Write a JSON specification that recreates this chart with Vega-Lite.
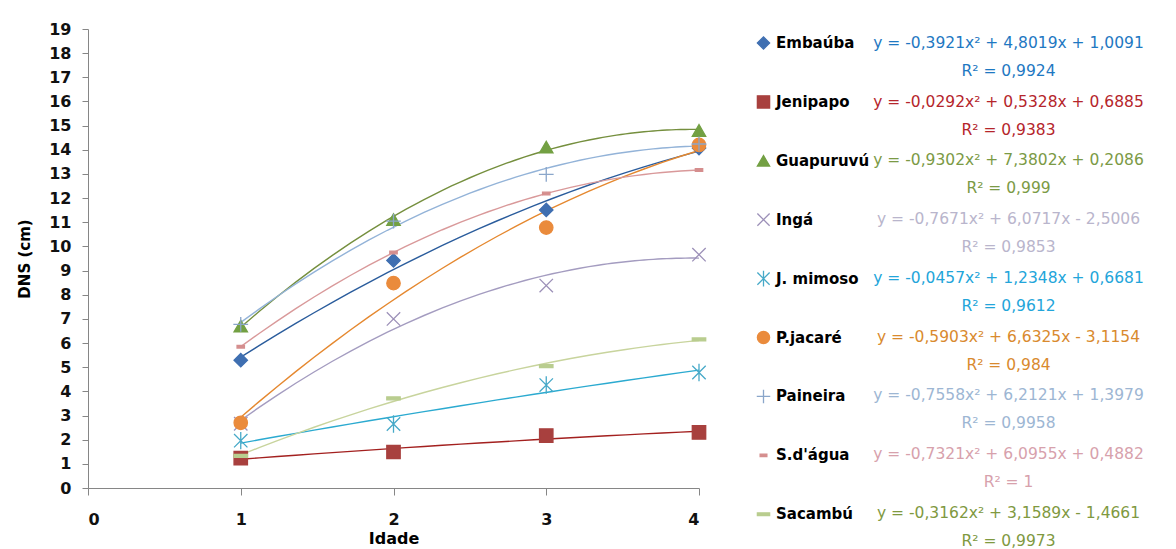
{
  "$schema": "https://vega.github.io/schema/vega-lite/v6.json",
  "width": 611,
  "height": 459,
  "autosize": {"type": "none"},
  "padding": {"left": 88, "top": 29, "right": 477, "bottom": 61},
  "background": "white",
  "config": {
    "view": {"stroke": null},
    "font": "DejaVu Sans",
    "axis": {
      "grid": false,
      "domainColor": "#868686",
      "tickColor": "#868686",
      "labelFont": "DejaVu Sans",
      "labelFontWeight": "bold",
      "labelFontSize": 16,
      "labelColor": "#111111",
      "labelOverlap": false,
      "titleFont": "DejaVu Sans",
      "titleFontWeight": "bold",
      "titleColor": "#000000"
    }
  },
  "data": {
    "values": [
      {"series": "Embaúba", "Idade": 1, "DNS": 5.29, "trend": "y = -0,3921x² + 4,8019x + 1,0091|R² = 0,9924"},
      {"series": "Embaúba", "Idade": 2, "DNS": 9.42, "trend": "y = -0,3921x² + 4,8019x + 1,0091|R² = 0,9924"},
      {"series": "Embaúba", "Idade": 3, "DNS": 11.51, "trend": "y = -0,3921x² + 4,8019x + 1,0091|R² = 0,9924"},
      {"series": "Embaúba", "Idade": 4, "DNS": 14.07, "trend": "y = -0,3921x² + 4,8019x + 1,0091|R² = 0,9924"},
      {"series": "Jenipapo", "Idade": 1, "DNS": 1.24, "trend": "y = -0,0292x² + 0,5328x + 0,6885|R² = 0,9383"},
      {"series": "Jenipapo", "Idade": 2, "DNS": 1.49, "trend": "y = -0,0292x² + 0,5328x + 0,6885|R² = 0,9383"},
      {"series": "Jenipapo", "Idade": 3, "DNS": 2.17, "trend": "y = -0,0292x² + 0,5328x + 0,6885|R² = 0,9383"},
      {"series": "Jenipapo", "Idade": 4, "DNS": 2.30, "trend": "y = -0,0292x² + 0,5328x + 0,6885|R² = 0,9383"},
      {"series": "Guapuruvú", "Idade": 1, "DNS": 6.70, "trend": "y = -0,9302x² + 7,3802x + 0,2086|R² = 0,999"},
      {"series": "Guapuruvú", "Idade": 2, "DNS": 11.11, "trend": "y = -0,9302x² + 7,3802x + 0,2086|R² = 0,999"},
      {"series": "Guapuruvú", "Idade": 3, "DNS": 14.11, "trend": "y = -0,9302x² + 7,3802x + 0,2086|R² = 0,999"},
      {"series": "Guapuruvú", "Idade": 4, "DNS": 14.80, "trend": "y = -0,9302x² + 7,3802x + 0,2086|R² = 0,999"},
      {"series": "Ingá", "Idade": 1, "DNS": 2.66, "trend": "y = -0,7671x² + 6,0717x - 2,5006|R² = 0,9853"},
      {"series": "Ingá", "Idade": 2, "DNS": 7.00, "trend": "y = -0,7671x² + 6,0717x - 2,5006|R² = 0,9853"},
      {"series": "Ingá", "Idade": 3, "DNS": 8.38, "trend": "y = -0,7671x² + 6,0717x - 2,5006|R² = 0,9853"},
      {"series": "Ingá", "Idade": 4, "DNS": 9.66, "trend": "y = -0,7671x² + 6,0717x - 2,5006|R² = 0,9853"},
      {"series": "J. mimoso", "Idade": 1, "DNS": 1.96, "trend": "y = -0,0457x² + 1,2348x + 0,6681|R² = 0,9612"},
      {"series": "J. mimoso", "Idade": 2, "DNS": 2.65, "trend": "y = -0,0457x² + 1,2348x + 0,6681|R² = 0,9612"},
      {"series": "J. mimoso", "Idade": 3, "DNS": 4.26, "trend": "y = -0,0457x² + 1,2348x + 0,6681|R² = 0,9612"},
      {"series": "J. mimoso", "Idade": 4, "DNS": 4.78, "trend": "y = -0,0457x² + 1,2348x + 0,6681|R² = 0,9612"},
      {"series": "P.jacaré", "Idade": 1, "DNS": 2.70, "trend": "y = -0,5903x² + 6,6325x - 3,1154|R² = 0,984"},
      {"series": "P.jacaré", "Idade": 2, "DNS": 8.48, "trend": "y = -0,5903x² + 6,6325x - 3,1154|R² = 0,984"},
      {"series": "P.jacaré", "Idade": 3, "DNS": 10.78, "trend": "y = -0,5903x² + 6,6325x - 3,1154|R² = 0,984"},
      {"series": "P.jacaré", "Idade": 4, "DNS": 14.20, "trend": "y = -0,5903x² + 6,6325x - 3,1154|R² = 0,984"},
      {"series": "Paineira", "Idade": 1, "DNS": 6.77, "trend": "y = -0,7558x² + 6,2121x + 1,3979|R² = 0,9958"},
      {"series": "Paineira", "Idade": 2, "DNS": 11.05, "trend": "y = -0,7558x² + 6,2121x + 1,3979|R² = 0,9958"},
      {"series": "Paineira", "Idade": 3, "DNS": 12.98, "trend": "y = -0,7558x² + 6,2121x + 1,3979|R² = 0,9958"},
      {"series": "Paineira", "Idade": 4, "DNS": 14.24, "trend": "y = -0,7558x² + 6,2121x + 1,3979|R² = 0,9958"},
      {"series": "S.d'água", "Idade": 1, "DNS": 5.85, "trend": "y = -0,7321x² + 6,0955x + 0,4882|R² = 1"},
      {"series": "S.d'água", "Idade": 2, "DNS": 9.75, "trend": "y = -0,7321x² + 6,0955x + 0,4882|R² = 1"},
      {"series": "S.d'água", "Idade": 3, "DNS": 12.19, "trend": "y = -0,7321x² + 6,0955x + 0,4882|R² = 1"},
      {"series": "S.d'água", "Idade": 4, "DNS": 13.16, "trend": "y = -0,7321x² + 6,0955x + 0,4882|R² = 1"},
      {"series": "Sacambú", "Idade": 1, "DNS": 1.33, "trend": "y = -0,3162x² + 3,1589x - 1,4661|R² = 0,9973"},
      {"series": "Sacambú", "Idade": 2, "DNS": 3.71, "trend": "y = -0,3162x² + 3,1589x - 1,4661|R² = 0,9973"},
      {"series": "Sacambú", "Idade": 3, "DNS": 5.04, "trend": "y = -0,3162x² + 3,1589x - 1,4661|R² = 0,9973"},
      {"series": "Sacambú", "Idade": 4, "DNS": 6.15, "trend": "y = -0,3162x² + 3,1589x - 1,4661|R² = 0,9973"}
    ]
  },
  "layer": [
    {
      "transform": [
        {"regression": "DNS", "on": "Idade", "groupby": ["series", "trend"], "method": "poly", "order": 2, "extent": [1, 4]}
      ],
      "mark": {"type": "line", "strokeWidth": 1.4},
      "encoding": {
        "x": {"field": "Idade", "type": "quantitative", "scale": {"domain": [0, 4], "nice": false}, "axis": {"values": [0, 1, 2, 3, 4], "format": "d", "tickSize": 7, "labelPadding": 16, "labelOverlap": false, "title": "Idade", "titleFontSize": 16, "titlePadding": 3}},
        "y": {"field": "DNS", "type": "quantitative", "scale": {"domain": [0, 19], "nice": false}, "axis": {"values": [0,1,2,3,4,5,6,7,8,9,10,11,12,13,14,15,16,17,18,19], "tickCount": 20, "format": "d", "tickSize": 6, "labelPadding": 11, "labelOverlap": false, "title": "DNS (cm)", "titleFontSize": 15, "titlePadding": 16}},
        "color": {
          "field": "trend", "type": "nominal",
          "scale": {
            "domain": [
              "y = -0,3921x² + 4,8019x + 1,0091|R² = 0,9924",
              "y = -0,0292x² + 0,5328x + 0,6885|R² = 0,9383",
              "y = -0,9302x² + 7,3802x + 0,2086|R² = 0,999",
              "y = -0,7671x² + 6,0717x - 2,5006|R² = 0,9853",
              "y = -0,0457x² + 1,2348x + 0,6681|R² = 0,9612",
              "y = -0,5903x² + 6,6325x - 3,1154|R² = 0,984",
              "y = -0,7558x² + 6,2121x + 1,3979|R² = 0,9958",
              "y = -0,7321x² + 6,0955x + 0,4882|R² = 1",
              "y = -0,3162x² + 3,1589x - 1,4661|R² = 0,9973"
            ],
            "range": ["#2A5C9C", "#A3201F", "#758F3E", "#A49CC0", "#2BAAD0", "#E5882F", "#93B3D8", "#D9999A", "#C8D49D"]
          },
          "legend": {
            "title": null, "orient": "none", "legendX": 905, "legendY": 6, "padding": 0,
            "symbolOpacity": 0, "symbolSize": 0, "symbolStrokeWidth": 0,
            "labelExpr": "split(datum.label, '|')",
            "labelAlign": "center", "labelFont": "DejaVu Sans", "labelFontSize": 15.5, "labelFontWeight": "normal",
            "labelOffset": 0, "labelLimit": 0, "rowPadding": 13.75,
            "encoding": {
              "labels": {
                "fill": {
                  "condition": [
                    {"test": "datum.index === 0", "value": "#1E78C2"},
                    {"test": "datum.index === 1", "value": "#B5252B"},
                    {"test": "datum.index === 2", "value": "#7B9A45"},
                    {"test": "datum.index === 3", "value": "#B9B5CC"},
                    {"test": "datum.index === 4", "value": "#23A5DA"},
                    {"test": "datum.index === 5", "value": "#D98A2E"},
                    {"test": "datum.index === 6", "value": "#9DB6D3"},
                    {"test": "datum.index === 7", "value": "#D7A1AC"}
                  ],
                  "value": "#80993F"
                },
                "lineHeight": {"value": 28}
              }
            }
          }
        }
      }
    },
    {
      "mark": {"type": "point", "filled": true, "size": 180, "strokeWidth": 1.3, "opacity": 1},
      "encoding": {
        "x": {"field": "Idade", "type": "quantitative"},
        "y": {"field": "DNS", "type": "quantitative"},
        "fill": {
          "field": "series", "type": "nominal",
          "scale": {
            "domain": ["Embaúba", "Jenipapo", "Guapuruvú", "Ingá", "J. mimoso", "P.jacaré", "Paineira", "S.d'água", "Sacambú"],
            "range": ["#3F6FB1", "#A8403E", "#73A043", "#9C90B8", "#46A9C8", "#EA8B3C", "#8AA6CA", "#D58E8E", "#B9CD8F"]
          },
          "legend": {"title": null, "orient": "none", "legendX": 668, "legendY": 6.5, "padding": 0, "gridAlign": "all", "symbolSize": 150, "symbolStrokeWidth": 1.3, "labelFont": "DejaVu Sans", "labelFontSize": 15, "labelFontWeight": "bold", "labelColor": "#000000", "labelOffset": 5, "labelLimit": 0, "rowPadding": 35.9}
        },
        "stroke": {
          "field": "series", "type": "nominal",
          "scale": {
            "domain": ["Embaúba", "Jenipapo", "Guapuruvú", "Ingá", "J. mimoso", "P.jacaré", "Paineira", "S.d'água", "Sacambú"],
            "range": ["#3F6FB1", "#A8403E", "#73A043", "#9C90B8", "#46A9C8", "#EA8B3C", "#8AA6CA", "#D58E8E", "#B9CD8F"]
          },
          "legend": {"title": null, "orient": "none", "legendX": 668, "legendY": 6.5, "padding": 0, "gridAlign": "all", "symbolSize": 150, "symbolStrokeWidth": 1.3, "labelFont": "DejaVu Sans", "labelFontSize": 15, "labelFontWeight": "bold", "labelColor": "#000000", "labelOffset": 5, "labelLimit": 0, "rowPadding": 35.9}
        },
        "shape": {
          "field": "series", "type": "nominal",
          "scale": {
            "domain": ["Embaúba", "Jenipapo", "Guapuruvú", "Ingá", "J. mimoso", "P.jacaré", "Paineira", "S.d'água", "Sacambú"],
            "range": ["diamond", "square", "triangle-up", "M-1,-1L1,1M-1,1L1,-1", "M-1,-1L1,1M-1,1L1,-1M0,-1.3L0,1.3", "circle", "M-1.1,0L1.1,0M0,-1.1L0,1.1", "M-0.55,-0.2L0.55,-0.2L0.55,0.2L-0.55,0.2Z", "M-1,-0.22L1,-0.22L1,0.22L-1,0.22Z"]
          },
          "legend": {"title": null, "orient": "none", "legendX": 668, "legendY": 6.5, "padding": 0, "gridAlign": "all", "symbolSize": 150, "symbolStrokeWidth": 1.3, "labelFont": "DejaVu Sans", "labelFontSize": 15, "labelFontWeight": "bold", "labelColor": "#000000", "labelOffset": 5, "labelLimit": 0, "rowPadding": 35.9}
        }
      }
    }
  ]
}
